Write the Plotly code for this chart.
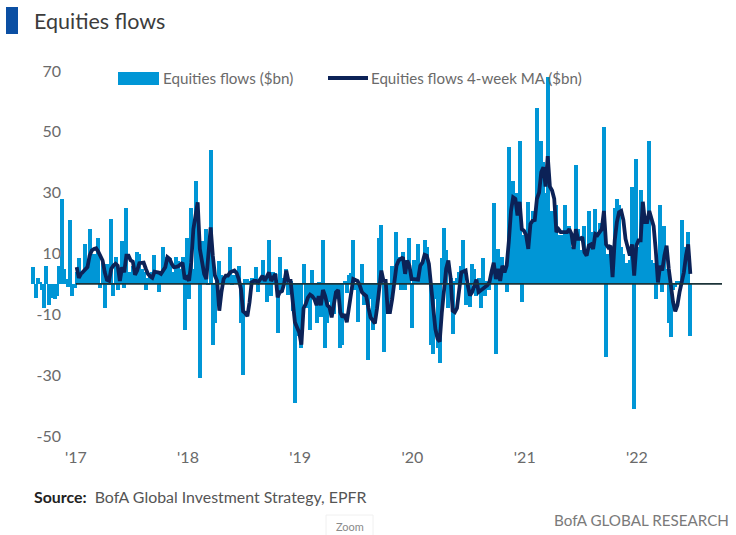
import pandas as pd
import plotly.graph_objects as go

START = "2016-08-16"
END = "2022-06-24"
flows = [5.5,-4.5,2,0.5,-2,-8,6,-7,-4.5,-3,-5,-4,6,28,5,1.5,-1,21,-4,-1.5,
4,8.5,2,3,13,5,18,9,10,7,15,-1.5,7,-8,6.5,-0.5,21.5,-4,9,-2,
5,14,-1.5,25,4,3,6,5,10.5,10,5,4,-2,2,3,4,9.5,4,-2.5,4,
12,5,9,8.5,4,4,9,7.5,5,9,-15,15,-5,25,5,34,12,-31,14,14,
18,-0.5,44,-20,-13,3,7.5,3,1,2,3,12,-0.5,3,3,6,-13,-30,1.5,1.5,
1,2,1,5.5,-2.5,1,8,1,-6,14.5,-4,4,3.5,-16,9,-2.5,2,5,-3.5,1,
-9,-39,-10,-17,-21,6.5,-8,-5,-15,4.5,-5,-13,0.5,-11,14.5,-21,-13,-6,-10,-10,
-4,-5,-21,-20,1,-3,3,3.5,14.5,-2,-12.5,-1,6.5,-7,-4,-25,-5,-15,-13,-4,
15,19.5,-22.5,-5,-10,-5,6,5,17,9,-2,10.5,-2,8,15,-14.5,8,4,13,5,
7,14.5,12,3,-20,-23,-5,-21,-26,8.5,18.5,11,-8,2,-16.5,1,2,4,6,14.5,
-7,-7,-7.5,6.5,5,-4,2,-8,8.5,-4,1,-2,4,26.5,-23,11.5,5,9,6,-2.5,
45,12,34,22,30,47,-6,16,15,27,16,24,20,58,25,47,40,30,68,21,
24,20,26,16,16,15,26,15,19,12,5,39,18,11,10,19,10,24,17,6,
24.5,17,20,12,51.5,-24,10,8,6,25,28,26,12,10,7,7,8,32,-41,41,
12,31,20,17,20,47,8,7,-5,3,26,-2.5,19,5,-13,-17.5,-2,-1,1,1,
21,12,4,17,-17]
ma_4w = [5.5,2,3.3,4.2,5,5.5,9.3,11,11.5,11.7,10.6,8.8,7.7,3.8,1.3,1,5,6,6.6,6,
1,5.5,3.8,9.3,9.3,7.7,7.3,3,4.4,6.8,7,7,5,3.3,2.5,2,4,4,3.7,3.3,
4.5,5.5,8.8,8.2,6.6,5.5,5.6,5.8,6.4,7,1.6,2.2,1,7,18,23,26.8,11.5,7,3.3,
1.6,9.3,18.6,9.3,2.7,1,-8.8,-2.7,1.6,2.7,2.7,3.8,4,4.4,3.6,1.6,-1.6,-9,-9.6,-10.6,
-6,0.5,1,1,0.5,1.5,2.7,1,2.7,3.8,1,2.5,3.3,-4.4,-2.7,-2.4,0,4.4,1,1,
-6,-12.6,-14.3,-16,-20,-8,-6.6,-4.5,-3.5,-4,-5,-7,-4,-7,-2,-4,-7,-7.7,-11,-6.6,
-2.7,-2,-9.3,-11,-10,-12.6,-8,-1.6,1.6,1.3,1,-0.5,-2.7,-3.4,-4,-7.7,-11,-12,-13,-8,
-0.5,4.4,1,1,-9.3,-9.3,-5,0.5,6,7.7,8.2,8.8,3.3,7.7,6,1.6,1.6,1.6,1.4,6,
7,9.6,9.3,6.6,-1.6,-7,-14.8,-18,-19,-9.3,-1.6,5,7.7,2.2,-8.8,-9.3,-8,-1.6,3.8,4.1,
4.4,-0.5,-3.8,-2.7,-0.6,1.4,-2.7,-2,-1.4,-1,-0.5,0.5,4,7,1.6,5,1,6,3.8,6,
14,24,28.5,28,22.5,27,18,17.5,16,11.5,19.7,20.8,21,28,30,36.7,38.4,32,42,32,
30.7,28,17,18,17,17,17,17,18,16.4,11.5,18,14.8,14.8,15.4,10.4,9.3,12.6,13,11.5,
16.4,16,17,18,24,13,12,12.6,2.2,14.3,20.3,23.6,24,21,14.8,11.5,9.3,13,2.7,12.6,
14.3,14.3,27,20.3,20.3,24,21.4,19,11,0.5,6,4.4,9.3,12.6,5,-0.5,-6,-9,-7,-2.7,
1,3.8,9.3,13,3.3]
year_ticks = ["2017-01-01","2018-01-01","2019-01-01","2020-01-01","2021-01-01","2022-01-01"]
year_labels = ["'17","'18","'19","'20","'21","'22"]
y_ticks = [70,50,30,10,-10,-30,-50]
FONT = "Lato"
GRAY = "#6a6a6a"
BAR_NAME = "Equities flows ($bn)"
LINE_NAME = "Equities flows 4-week MA ($bn)"

dates = pd.date_range(START, END, periods=len(flows))
ma_dates = dates[len(flows) - len(ma_4w):]

# canvas-pixel helpers for the page furniture
L, R, T, B = 31, 722, 71, 436
def xp(px): return (px - L) / (R - L)
def yp(py): return (B - py) / (B - T)

fig = go.Figure()
fig.add_bar(x=dates, y=flows, name=BAR_NAME, marker=dict(color="#0096D6", line_width=0),
            width=1000*86400*13, showlegend=False)
fig.add_scatter(x=ma_dates, y=ma_4w, mode="lines", name=LINE_NAME, showlegend=False,
                line=dict(color="#0C2257", width=3.8, shape="linear"))

shapes = [
    dict(type="line", xref="x", yref="y", x0="2017-01-01", x1="2022-10-05", y0=0, y1=0,
         line=dict(color="#1C3338", width=1.8), layer="above"),
    dict(type="rect", xref="paper", yref="paper", x0=xp(6), x1=xp(18), y0=yp(34), y1=yp(7),
         fillcolor="#0B4FA3", line_width=0),
    dict(type="rect", xref="paper", yref="paper", x0=xp(118), x1=xp(159), y0=yp(85), y1=yp(72),
         fillcolor="#0096D6", line_width=0),
    dict(type="line", xref="paper", yref="paper", x0=xp(328), x1=xp(368), y0=yp(78), y1=yp(78),
         line=dict(color="#0C2257", width=4)),
    dict(type="rect", xref="paper", yref="paper", x0=xp(326), x1=xp(373), y0=yp(538), y1=yp(515),
         fillcolor="#ffffff", line=dict(color="#f0f0f0", width=1)),
]
def note(text, px, py, anchor="left", size=16, color=GRAY):
    return dict(text=text, xref="paper", yref="paper", x=xp(px), y=yp(py), xanchor=anchor,
                yanchor="middle", showarrow=False, font=dict(family=FONT, size=size, color=color),
                xshift=-1 if anchor == "left" else 1)
annotations = [
    note("Equities flows", 33, 21, size=21.5, color="#3c3c3c"),
    note(BAR_NAME, 162, 78, size=15.2),
    note(LINE_NAME, 370, 78, size=15.1),
    note("<b style='color:#222'>Source:</b>  BofA Global Investment Strategy, EPFR", 33, 496, size=15.9, color="#555555"),
    note("BofA GLOBAL RESEARCH", 730, 520, anchor="right", size=15.2, color="#7a7a7a"),
    note("Zoom", 349, 526, anchor="center", size=11, color="#8a8a8a"),
]

fig.update_layout(
    width=736, height=535, paper_bgcolor="white", plot_bgcolor="white",
    margin=dict(l=L, r=736-R, t=T, b=535-B, autoexpand=False),
    barmode="overlay", bargap=0, shapes=shapes, annotations=annotations,
    font=dict(family=FONT, size=16, color=GRAY), showlegend=False,
    xaxis=dict(type="date", range=["2016-08-08","2022-10-05"], tickmode="array", tickvals=year_ticks,
               ticktext=year_labels, showgrid=False, zeroline=False, showline=False,
               ticks="outside", ticklen=7, tickcolor="rgba(0,0,0,0)", tickangle=0),
    yaxis=dict(range=[-50,70], tickmode="array", tickvals=y_ticks, ticktext=[str(v) for v in y_ticks],
               showgrid=False, zeroline=False, showline=False, anchor="free", position=xp(61)),
)
fig.write_html("out.html", config={"displayModeBar": False}, post_script="document.body.style.margin='0';")
